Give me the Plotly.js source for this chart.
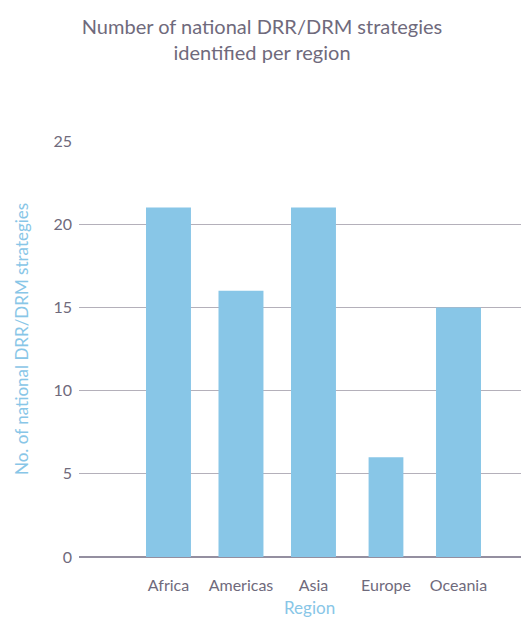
<!DOCTYPE html>
<html>
<head>
<meta charset="utf-8">
<script src="https://cdn.plot.ly/plotly-3.0.1.min.js"></script>
<style>html,body{margin:0;padding:0;background:#fff;}#chart{width:521px;height:619px;}</style>
</head>
<body>
<div id="chart"></div>
<script>
const regions = ["Africa", "Americas", "Asia", "Europe", "Oceania"];
const strategies = [21, 16, 21, 6, 15];
const yTicks = [0, 5, 10, 15, 20, 25];
const titleText = "Number of national DRR/DRM strategies<br>identified per region";
const yTitle = "No. of national DRR/DRM strategies";
const xTitle = "Region";

const barWidths = [0.62, 0.62, 0.62, 0.48, 0.62];
const textColor = "#6f6a7c";
const accent = "#88c6e7";
const fontFam = "Lato, 'Open Sans', sans-serif";

const data = [{
  type: "bar",
  x: regions,
  y: strategies,
  width: barWidths,
  marker: {color: accent},
  hoverinfo: "x+y"
}];

const layout = {
  width: 521, height: 619,
  margin: {l: 79, r: 0, t: 141, b: 62},
  paper_bgcolor: "#fff", plot_bgcolor: "#fff",
  showlegend: false,
  font: {family: fontFam, color: textColor},
  title: {
    text: titleText,
    font: {family: fontFam, size: 20, color: textColor},
    x: 262/521, xanchor: "center",
    y: 1 - 34/619, yanchor: "middle", yref: "container"
  },
  xaxis: {
    type: "category",
    range: [-1.234, 4.862],
    showgrid: false, zeroline: false, showline: false,
    ticks: "", ticklabelstandoff: 17,
    tickfont: {family: fontFam, size: 16, color: textColor},
    fixedrange: true
  },
  yaxis: {
    range: [0, 25],
    tickvals: yTicks,
    showgrid: true, gridcolor: "#b4b0ba", gridwidth: 1,
    zeroline: true, zerolinecolor: "#948fa0", zerolinewidth: 1.5,
    showline: false, ticks: "", ticklabelstandoff: 6,
    tickfont: {family: fontFam, size: 16, color: textColor},
    fixedrange: true
  },
  annotations: [
    {text: yTitle, xref: "paper", yref: "paper", x: (21-79)/442, y: (557-339)/416,
     xanchor: "center", yanchor: "middle", textangle: -90, showarrow: false,
     font: {family: fontFam, size: 17, color: accent}},
    {text: xTitle, xref: "paper", yref: "paper", x: (309-79)/442, y: -(607-557)/416,
     xanchor: "center", yanchor: "middle", showarrow: false,
     font: {family: fontFam, size: 17, color: accent}}
  ]
};

Plotly.newPlot("chart", data, layout, {displayModeBar: false, staticPlot: true});
</script>
</body>
</html>
